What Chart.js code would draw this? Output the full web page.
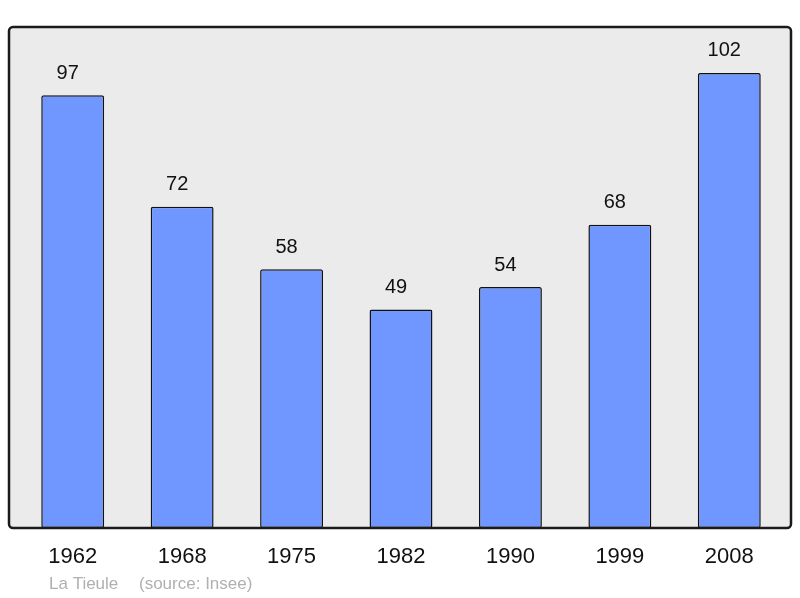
<!DOCTYPE html>
<html>
<head>
<meta charset="utf-8">
<script src="https://cdn.jsdelivr.net/npm/chart.js@4"></script>
<style>
  body { margin: 0; background: #fff; }
  #wrap { width: 800px; height: 598px; }
</style>
</head>
<body>
<div id="wrap"><canvas id="chart" width="800" height="598"></canvas></div>
<script>
const years = ['1962', '1968', '1975', '1982', '1990', '1999', '2008'];
const population = [97, 72, 58, 49, 54, 68, 102];
const townName = 'La Tieule';
const sourceText = '(source: Insee)';

// background box + labels drawn around the chart area
const decorations = {
    id: 'decorations',
    beforeDraw(chart) {
        const {ctx, chartArea} = chart;
        const x0 = chartArea.left - 9, x1 = chartArea.right + 7;
        const y0 = chartArea.top, y1 = chartArea.bottom;
        ctx.save();
        ctx.beginPath();
        ctx.roundRect(x0, y0, x1 - x0, y1 - y0, 4);
        ctx.fillStyle = '#ebebeb';
        ctx.fill();
        ctx.restore();
    },
    afterDraw(chart) {
        const {ctx, chartArea, scales} = chart;
        const x0 = chartArea.left - 9, x1 = chartArea.right + 7;
        const y0 = chartArea.top, y1 = chartArea.bottom;
        ctx.save();
        ctx.beginPath();
        ctx.roundRect(x0, y0, x1 - x0, y1 - y0, 4);
        ctx.lineWidth = 2.5;
        ctx.strokeStyle = '#1a1a1a';
        ctx.stroke();

        ctx.fillStyle = '#111';
        ctx.textAlign = 'center';
        ctx.textBaseline = 'middle';
        years.forEach((y, i) => {
            const x = scales.x.getPixelForValue(i);
            ctx.font = '20px "Liberation Sans", Arial, sans-serif';
            ctx.fillText(String(population[i]), x - 5, scales.y.getPixelForValue(population[i]) - 22);
            ctx.font = '22px "Liberation Sans", Arial, sans-serif';
            ctx.fillText(y, x, 557);
        });

        ctx.fillStyle = '#b0b0b0';
        ctx.textAlign = 'left';
        ctx.font = '17px "Liberation Sans", Arial, sans-serif';
        ctx.fillText(townName, 49, 584);
        ctx.fillText(sourceText, 139, 584);
        ctx.restore();
    }
};

new Chart(document.getElementById('chart'), {
    type: 'bar',
    data: {
        labels: years,
        datasets: [{
            data: population,
            backgroundColor: '#7096ff',
            borderColor: '#111',
            borderWidth: 1.5,
            borderRadius: 2,
            borderSkipped: false,
            barPercentage: 0.575,
            categoryPercentage: 1,
        }],
    },
    options: {
        responsive: false,
        animation: false,
        layout: { padding: { left: 18, right: 16, top: 27, bottom: 70 } },
        plugins: { legend: { display: false }, tooltip: { enabled: false } },
        scales: {
            x: { display: false },
            y: { display: false, min: 0, max: 112.3 },
        },
    },
    plugins: [decorations],
});
</script>
</body>
</html>
